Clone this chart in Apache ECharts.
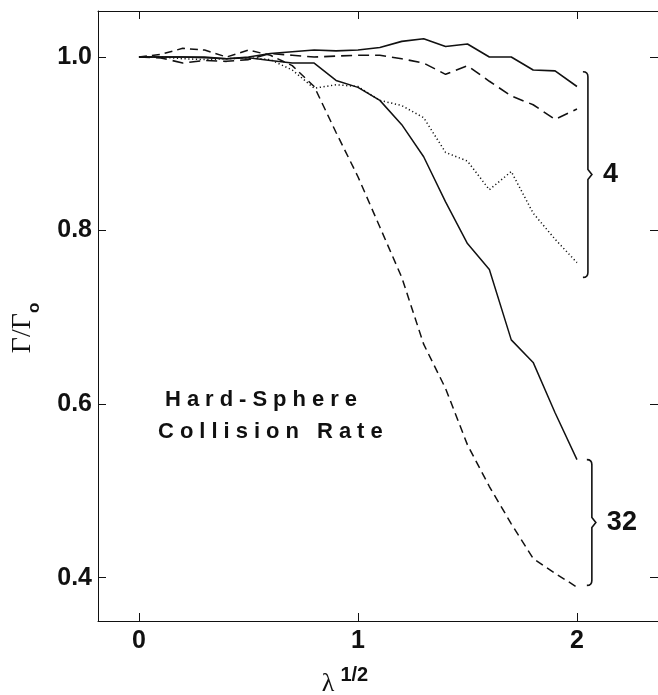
<!DOCTYPE html>
<html>
<head>
<meta charset="utf-8">
<script src="https://cdn.jsdelivr.net/npm/echarts@6/dist/echarts.min.js"></script>
<style>
  html, body { margin: 0; padding: 0; background: #fff; }
  #chart { width: 658px; height: 695px; }
</style>
</head>
<body>
<div id="chart"></div>
<script>
// lambda^(1/2) sample points
var xs = [0, 0.1, 0.2, 0.3, 0.4, 0.5, 0.6, 0.7, 0.8, 0.9, 1.0, 1.1, 1.2, 1.3, 1.4, 1.5, 1.6, 1.7, 1.8, 1.9, 2.0];

// group "4"
var solid4  = [1.0, 1.0, 1.0, 1.0, 0.998, 1.0, 1.004, 1.006, 1.008, 1.007, 1.008, 1.011, 1.018, 1.021, 1.012, 1.015, 1.0, 1.0, 0.985, 0.984, 0.966];
var dashed4 = [1.0, 0.999, 0.993, 0.996, 0.995, 0.997, 1.004, 1.002, 1.0, 1.001, 1.002, 1.002, 0.998, 0.993, 0.98, 0.99, 0.972, 0.955, 0.945, 0.928, 0.94];
var dotted4 = [1.0, 1.0, 0.998, 0.997, 0.998, 0.999, 0.997, 0.985, 0.964, 0.968, 0.966, 0.95, 0.944, 0.93, 0.89, 0.88, 0.847, 0.868, 0.82, 0.79, 0.763];

// group "32"
var solid32  = [1.0, 1.0, 1.0, 0.999, 0.998, 0.999, 0.996, 0.993, 0.993, 0.973, 0.965, 0.95, 0.922, 0.885, 0.833, 0.785, 0.755, 0.674, 0.648, 0.59, 0.536];
var dashed32 = [1.0, 1.003, 1.01, 1.008, 1.0, 1.008, 1.002, 0.99, 0.966, 0.913, 0.862, 0.804, 0.746, 0.669, 0.618, 0.553, 0.505, 0.462, 0.422, 0.405, 0.389];

// brackets grouping the curve ends
var bracketLabels = ['4', '32'];
var bracketX      = [2.05, 2.068];
var bracketTop    = [0.983, 0.536];
var bracketBottom = [0.746, 0.391];

var xTicks = [0, 1, 2];
var yTicks = [0.4, 0.6, 0.8, 1.0];

function pairs(ys) {
  return xs.map(function (x, i) { return [x, ys[i]]; });
}

var ink = '#111';
var sans = '"Liberation Sans", Arial, Helvetica, sans-serif';
var serif = '"Liberation Serif", "Times New Roman", serif';

function lineSeries(ys, type, width) {
  return {
    type: 'line',
    data: pairs(ys),
    showSymbol: false,
    silent: true,
    lineStyle: { color: ink, width: width, type: type }
  };
}

var bracketData = bracketLabels.map(function (lab, i) {
  return [bracketX[i], bracketTop[i], bracketBottom[i], lab];
});

var chart = echarts.init(document.getElementById('chart'));

var frameTick = { show: true, inside: true, length: 8, lineStyle: { color: ink, width: 1 } };
var frameLine = { show: true, onZero: false, lineStyle: { color: ink, width: 1 } };

// the caption sits on its own layer so its letter spacing can be widened
function noteText(id, x, y, text, fill) {
  return {
    type: 'text',
    id: id,
    zlevel: 1,
    x: x,
    y: y,
    style: {
      text: text,
      align: 'left',
      verticalAlign: 'top',
      fontFamily: sans,
      fontWeight: 'bold',
      fontSize: 22,
      fill: fill
    }
  };
}

var option = {
  animation: false,
  backgroundColor: '#fff',
  grid: { left: 98, right: 0, top: 11, bottom: 74, outerBoundsMode: 'none' },
  xAxis: [{
    type: 'value',
    min: -0.187,
    max: 2.37,
    position: 'bottom',
    axisLine: frameLine,
    axisTick: Object.assign({ customValues: xTicks }, frameTick),
    axisLabel: {
      customValues: xTicks,
      margin: 8,
      color: ink,
      fontFamily: sans,
      fontWeight: 'bold',
      fontSize: 25
    },
    splitLine: { show: false },
    name: '{l|λ}{s|1/2}',
    nameLocation: 'middle',
    nameGap: 44,
    nameTextStyle: {
      padding: [0, 66, 0, 0],
      rich: {
        l: { fontFamily: serif, fontSize: 26, color: ink, verticalAlign: 'bottom', lineHeight: 32 },
        s: { fontFamily: sans, fontWeight: 'bold', fontSize: 20, color: ink, verticalAlign: 'top', padding: [0, 0, 0, 6] }
      }
    }
  }, {
    type: 'value',
    min: -0.187,
    max: 2.37,
    position: 'top',
    axisLine: frameLine,
    axisTick: Object.assign({ customValues: xTicks }, frameTick),
    axisLabel: { show: false },
    splitLine: { show: false }
  }],
  yAxis: [{
    type: 'value',
    min: 0.35,
    max: 1.053,
    position: 'left',
    axisLine: frameLine,
    axisTick: Object.assign({ customValues: yTicks }, frameTick),
    axisLabel: {
      customValues: yTicks,
      margin: 6,
      color: ink,
      fontFamily: sans,
      fontWeight: 'bold',
      fontSize: 25,
      formatter: function (v) { return v.toFixed(1); }
    },
    splitLine: { show: false },
    name: '{g|Γ/Γ}{o|o}',
    nameLocation: 'middle',
    nameRotate: 90,
    nameGap: 55,
    nameTextStyle: {
      padding: [0, 24, 0, 0],
      rich: {
        g: { fontFamily: serif, fontSize: 28, color: ink, verticalAlign: 'top', lineHeight: 34 },
        o: { fontFamily: sans, fontWeight: 'bold', fontSize: 17, color: ink, verticalAlign: 'bottom' }
      }
    }
  }, {
    type: 'value',
    min: 0.35,
    max: 1.053,
    position: 'right',
    axisLine: frameLine,
    axisTick: Object.assign({ customValues: yTicks }, frameTick),
    axisLabel: { show: false },
    splitLine: { show: false }
  }],
  graphic: [
    noteText('note1', 165, 389, 'Hard-Sphere', ink),
    noteText('note2', 158, 421, 'Collision Rate', ink)
  ],
  series: [
    lineSeries(solid4, 'solid', 1.6),
    lineSeries(dashed4, [11, 6], 1.6),
    lineSeries(dotted4, [1.2, 2.6], 1.5),
    lineSeries(solid32, 'solid', 1.5),
    lineSeries(dashed32, [8, 5], 1.5),
    {
      type: 'custom',
      silent: true,
      data: bracketData,
      renderItem: function (params, api) {
        var top = api.coord([api.value(0), api.value(1)]);
        var bot = api.coord([api.value(0), api.value(2)]);
        var x = top[0], y0 = top[1], y1 = bot[1];
        var ym = (y0 + y1) / 2;
        var path = 'M' + (x - 5) + ' ' + y0 +
          ' Q' + x + ' ' + y0 + ' ' + x + ' ' + (y0 + 5) +
          ' L' + x + ' ' + (ym - 5) +
          ' L' + (x + 4) + ' ' + ym +
          ' L' + x + ' ' + (ym + 5) +
          ' L' + x + ' ' + (y1 - 5) +
          ' Q' + x + ' ' + y1 + ' ' + (x - 5) + ' ' + y1;
        return {
          type: 'group',
          children: [{
            type: 'path',
            shape: { pathData: path },
            style: { fill: null, stroke: ink, lineWidth: 1.6 }
          }, {
            type: 'text',
            x: x + 15,
            y: ym,
            style: {
              text: api.value(3),
              verticalAlign: 'middle',
              align: 'left',
              fontFamily: sans,
              fontWeight: 'bold',
              fontSize: 27,
              fill: ink
            }
          }]
        };
      }
    }
  ]
};

chart.setOption(option);

// widen the caption's letter spacing, then repaint that layer
var noteLayer = chart.getZr().painter.getLayer && chart.getZr().painter.getLayer(1);
if (noteLayer && noteLayer.ctx) {
  noteLayer.ctx.letterSpacing = '6px';
  chart.setOption({
    graphic: [
      noteText('note1', 165, 389, 'Hard-Sphere', '#101010'),
      noteText('note2', 158, 421, 'Collision Rate', '#101010')
    ]
  });
}
</script>
</body>
</html>
